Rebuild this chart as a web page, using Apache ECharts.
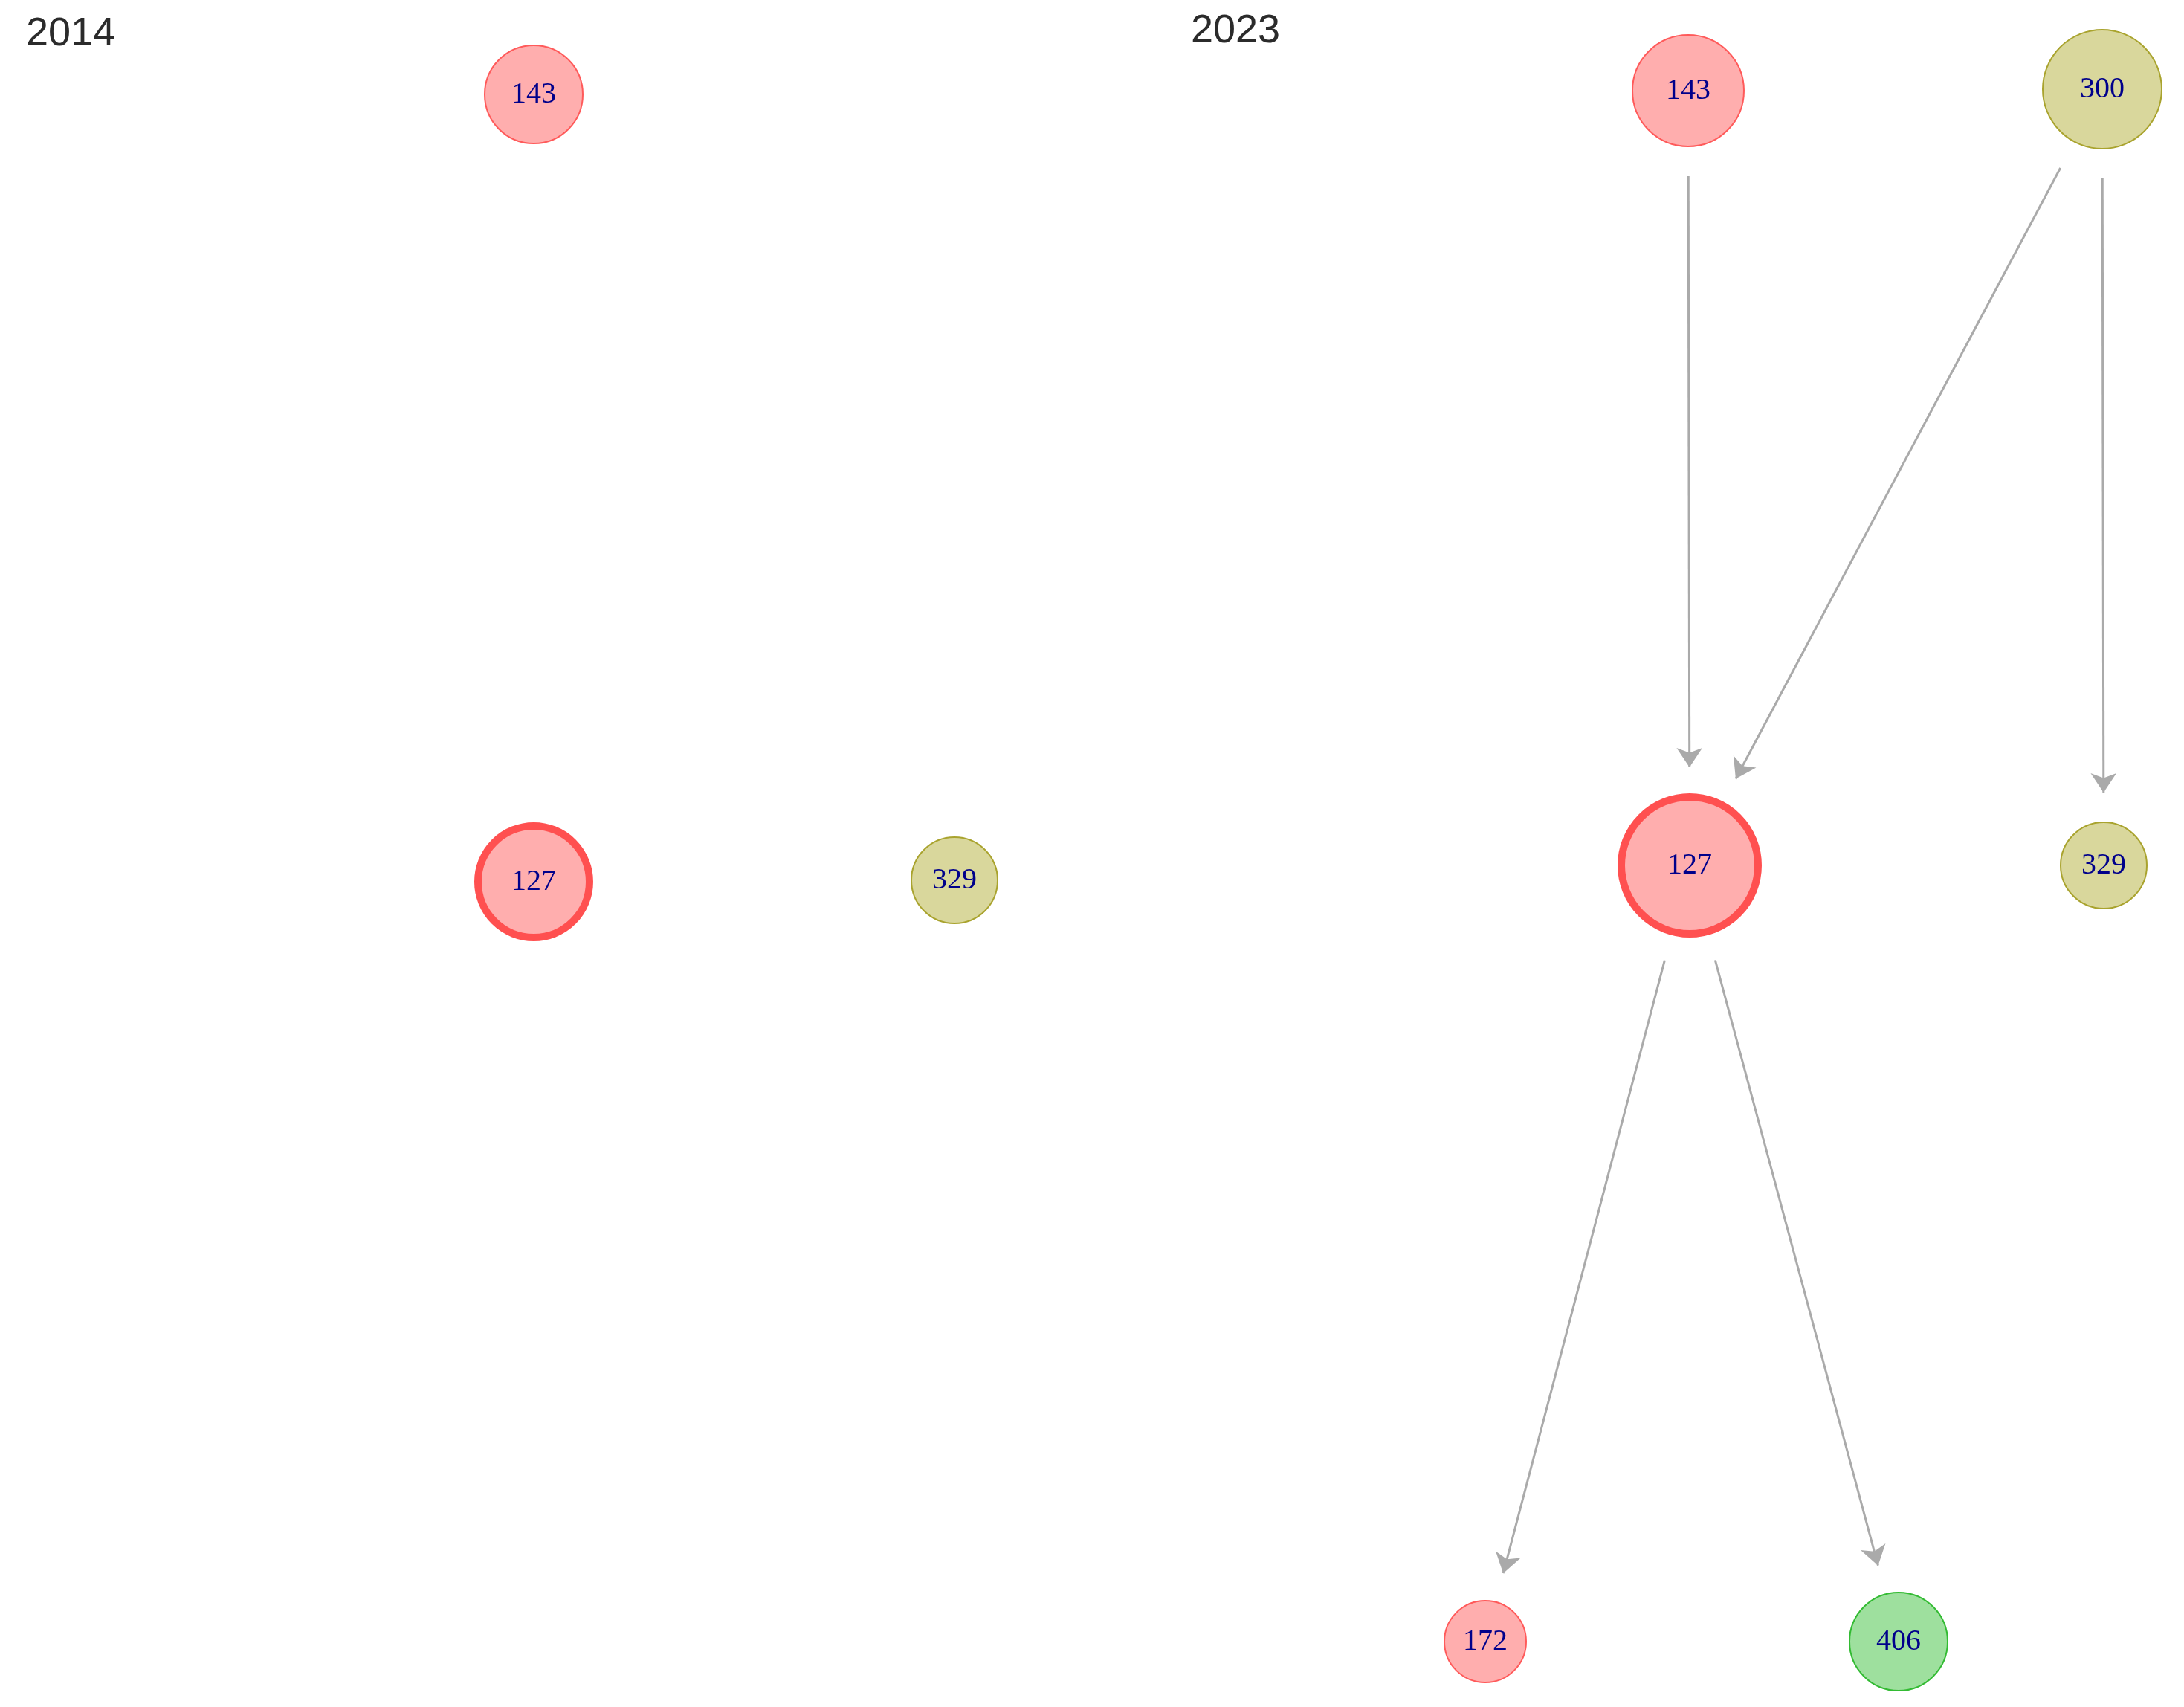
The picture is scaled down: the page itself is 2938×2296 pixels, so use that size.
<!DOCTYPE html>
<html><head><meta charset="utf-8">
<script src="https://cdn.jsdelivr.net/npm/echarts@6/dist/echarts.min.js"></script>
<style>html,body{margin:0;padding:0;background:#fff}#c{width:2938px;height:2296px}</style>
</head><body><div id="c"></div>
<script>
// panels
const panelTitles = ['2014', '2023'];
// nodes: label, x, y, radius, group
const nodeLabels = ['143', '127', '329', '143', '300', '127', '329', '172', '406'];
const nodeX      = [718, 718, 1284, 2271, 2828, 2273, 2830, 1998, 2554];
const nodeY      = [127, 1186, 1184, 122, 120, 1164, 1164, 2208, 2208];
const nodeR      = [66, 75, 58, 75, 80, 92, 58, 55, 66];
const nodeGroup  = ['red', 'redBold', 'olive', 'red', 'olive', 'redBold', 'olive', 'red', 'green'];
// edges (indices into nodes)
const edgeFrom = [3, 4, 4, 5, 5];
const edgeTo   = [5, 5, 6, 7, 8];

const styles = {
  red:     {color: '#FFAEAE', borderColor: '#FF5A5A', borderWidth: 2},
  redBold: {color: '#FFAEAE', borderColor: '#FF5050', borderWidth: 10},
  olive:   {color: '#D9D79C', borderColor: '#A9A32E', borderWidth: 2},
  green:   {color: '#9EE09E', borderColor: '#33BB33', borderWidth: 2}
};
const gap = 40;
const nodes = nodeLabels.map((l, i) => ({
  name: 'n' + i, value: [nodeX[i], nodeY[i]], symbolSize: nodeR[i] * 2,
  itemStyle: styles[nodeGroup[i]],
  label: {show: true, formatter: l}
}));
const lineData = edgeFrom.map((s, k) => {
  const t = edgeTo[k];
  const dx = nodeX[t] - nodeX[s], dy = nodeY[t] - nodeY[s];
  const d = Math.hypot(dx, dy), ux = dx / d, uy = dy / d;
  const a = nodeR[s] + gap, b = nodeR[t] + gap;
  return {coords: [[nodeX[s] + ux * a, nodeY[s] + uy * a], [nodeX[t] - ux * b, nodeY[t] - uy * b]]};
});
const chart = echarts.init(document.getElementById('c'));
chart.setOption({
  animation: false,
  title: [
    {text: panelTitles[0], left: 30, top: 14, textStyle: {fontFamily: 'Liberation Sans', fontSize: 54, fontWeight: 'normal', color: '#2b2b2b'}},
    {text: panelTitles[1], left: 1597, top: 10, textStyle: {fontFamily: 'Liberation Sans', fontSize: 54, fontWeight: 'normal', color: '#2b2b2b'}}
  ],
  grid: {left: 0, right: 0, top: 0, bottom: 0},
  xAxis: {type: 'value', min: 0, max: 2938, show: false},
  yAxis: {type: 'value', min: 0, max: 2296, inverse: true, show: false},
  series: [
    {
      type: 'lines', coordinateSystem: 'cartesian2d', z: 1,
      symbol: ['none', 'arrow'], symbolSize: 26,
      lineStyle: {color: '#AAAAAA', width: 3, opacity: 1},
      data: lineData
    },
    {
      type: 'graph', coordinateSystem: 'cartesian2d', layout: 'none', z: 2,
      symbol: 'circle',
      label: {color: '#00008B', fontFamily: 'Liberation Serif', fontSize: 40},
      data: nodes, links: []
    }
  ]
});
</script></body></html>
